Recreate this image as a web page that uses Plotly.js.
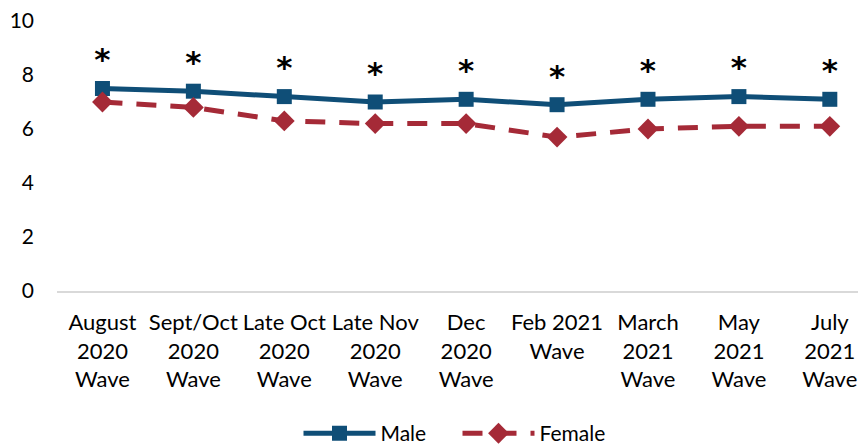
<!DOCTYPE html>
<html>
<head>
<meta charset="utf-8">
<script src="https://cdn.plot.ly/plotly-3.0.1.min.js"></script>
<style>html,body{margin:0;padding:0;background:#fff;}#chart{width:858px;height:447px;}</style>
</head>
<body>
<div id="chart"></div>
<script>
const categories = [
  "August<br>2020<br>Wave",
  "Sept/Oct<br>2020<br>Wave",
  "Late Oct<br>2020<br>Wave",
  "Late Nov<br>2020<br>Wave",
  "Dec<br>2020<br>Wave",
  "Feb 2021<br>Wave",
  "March<br>2021<br>Wave",
  "May<br>2021<br>Wave",
  "July<br>2021<br>Wave"
];
const maleValues = [7.5, 7.4, 7.2, 7.0, 7.1, 6.9, 7.1, 7.2, 7.1];
const femaleValues = [7.0, 6.8, 6.3, 6.2, 6.2, 5.7, 6.0, 6.1, 6.1];
const significance = ["*", "*", "*", "*", "*", "*", "*", "*", "*"];
const yTicks = [0, 2, 4, 6, 8, 10];

const FONT = "Lato, 'Open Sans', sans-serif";
const idx = categories.map((c, i) => i);

const traces = [
  {
    x: idx, y: maleValues, name: "Male", type: "scatter", mode: "lines+markers+text",
    text: significance, textposition: "top center",
    textfont: {family: "'DejaVu Sans', sans-serif", size: 31, color: "#000", weight: "bold"},
    line: {color: "#0f4e77", width: 5},
    marker: {symbol: "square", size: 15, color: "#0f4e77"},
    cliponaxis: false
  },
  {
    x: idx, y: femaleValues, name: "Female", type: "scatter", mode: "lines+markers",
    line: {color: "#a52a37", width: 5, dash: "20px,14px"},
    marker: {symbol: "diamond", size: 16, color: "#a52a37"},
    cliponaxis: false
  }
];

const layout = {
  width: 858, height: 447,
  margin: {l: 57, r: 0, t: 21, b: 156, autoexpand: false},
  paper_bgcolor: "#fff", plot_bgcolor: "#fff",
  font: {family: FONT, size: 21, color: "#000"},
  showlegend: true,
  legend: {orientation: "h", x: 0.5, xanchor: "center", yref: "container", y: 0.03, yanchor: "middle",
           itemwidth: 72, entrywidth: 72, entrywidthmode: "pixels",
           font: {family: FONT, size: 21, color: "#000"}, traceorder: "normal"},
  xaxis: {
    range: [-0.5, 8.31], tickmode: "array", tickvals: idx, ticktext: categories,
    showgrid: false, zeroline: false, showline: true, linecolor: "#d9d9d9", linewidth: 1.5,
    ticks: "", tickfont: {family: FONT, size: 22, color: "#000"}, ticklabelstandoff: 11,
    automargin: false, fixedrange: true
  },
  yaxis: {
    range: [0, 10], tickmode: "array", tickvals: yTicks, ticktext: yTicks.map(String),
    showgrid: false, zeroline: false, showline: false,
    ticks: "", tickfont: {family: FONT, size: 21, color: "#000"}, ticklabelstandoff: 22,
    automargin: false, fixedrange: true
  }
};

Plotly.newPlot("chart", traces, layout, {displayModeBar: false, staticPlot: true});
</script>
</body>
</html>
